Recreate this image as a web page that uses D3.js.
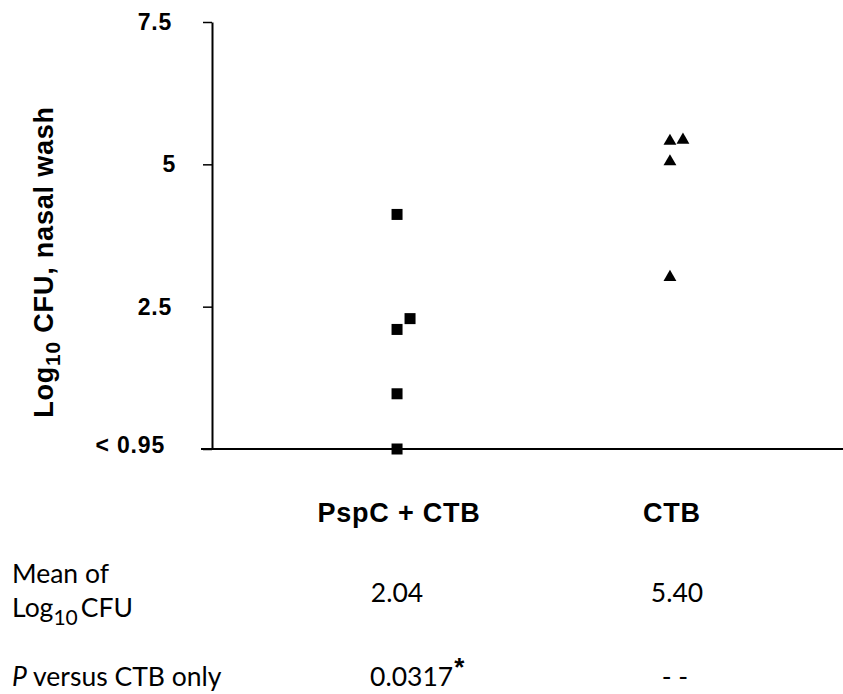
<!DOCTYPE html>
<html>
<head>
<meta charset="utf-8">
<script src="https://cdn.jsdelivr.net/npm/d3@7"></script>
<style>
  body { margin: 0; background: #fff; }
  svg { display: block; }
</style>
</head>
<body>
<div id="chart"></div>
<script>
// Groups and per-animal values (log10 CFU); 0 = below detection (< 0.95)
const groups = ["PspC + CTB", "CTB"];
const pspcValues = [4.12, 2.29, 2.10, 0.97, 0];
const pspcSlot = [0, 1, 0, 0, 0];
const ctbValues = [5.44, 5.46, 5.08, 3.05];
const ctbSlot = [0, 1, 0, 0];
const yTicks = [0, 2.5, 5, 7.5];
const yTickLabels = ["< 0.95", "2.5", "5", "7.5"];
const means = ["2.04", "5.40"];
const pValues = ["0.0317", "- -"];

const W = 843, H = 694;
const axisX = 212;
const boldFont = "'Liberation Sans', Arial, sans-serif";

const svg = d3.select("#chart")
  .append("svg")
  .attr("width", W)
  .attr("height", H);

// Scales
const y = d3.scaleLinear()
  .domain([0, 7.5])
  .range([449, 22]);
const x = d3.scalePoint()
  .domain(groups)
  .range([axisX, 855])
  .padding(0.678);
const dodge = 13;

// Y axis
const yAxis = svg.append("g")
  .attr("transform", `translate(${axisX},0)`)
  .call(d3.axisLeft(y)
    .tickValues(yTicks)
    .tickSize(9)
    .tickSizeOuter(0)
    .tickPadding(31)
    .tickFormat((d, i) => yTickLabels[i]))
  .attr("font-family", boldFont)
  .attr("font-size", 23)
  .attr("font-weight", "bold");
yAxis.select(".domain").attr("stroke", "#000").attr("stroke-width", 2);
yAxis.selectAll(".tick line").attr("stroke", "#000").attr("stroke-width", 1.5);
yAxis.selectAll(".tick text")
  .attr("fill", "#000")
  .attr("letter-spacing", "0.8px")
  .attr("dx", d => d === 0 ? -7 : (d === 5 ? 4 : 0))
  .attr("dy", d => d === 0 ? "0.15em" : "0.32em");

// X baseline
svg.append("line")
  .attr("x1", 201)
  .attr("x2", W)
  .attr("y1", y(0))
  .attr("y2", y(0))
  .attr("stroke", "#000")
  .attr("stroke-width", 2);

// Y title
const yTitle = svg.append("text")
  .attr("transform", `translate(53,262) rotate(-90)`)
  .attr("text-anchor", "middle")
  .style("font-family", boldFont)
  .style("font-weight", "bold")
  .style("font-size", "27px")
  .style("letter-spacing", "0.8px");
yTitle.append("tspan").text("Log");
yTitle.append("tspan").attr("dy", 7).style("font-size", "21px").text("10");
yTitle.append("tspan").attr("dy", -7).text(" CFU, nasal wash");

// Squares: PspC + CTB
const sq = 11;
svg.selectAll("rect.pt")
  .data(pspcValues.map((v, i) => ({v, s: pspcSlot[i]})))
  .join("rect")
  .attr("class", "pt")
  .attr("x", d => x(groups[0]) + d.s * dodge - sq / 2)
  .attr("y", d => y(d.v) - sq / 2)
  .attr("width", sq)
  .attr("height", sq)
  .attr("fill", "#000");

// Triangles: CTB
const triSize = 72;
const triOff = Math.sqrt(triSize / (Math.sqrt(3) * 3)) / 2; // centroid -> bbox centre
svg.selectAll("path.tri")
  .data(ctbValues.map((v, i) => ({v, s: ctbSlot[i]})))
  .join("path")
  .attr("class", "tri")
  .attr("d", d3.symbol(d3.symbolTriangle, triSize))
  .attr("transform", d => `translate(${x(groups[1]) + d.s * dodge},${y(d.v) + triOff})`)
  .attr("fill", "#000");

// Group labels
svg.selectAll("text.grp")
  .data(groups)
  .join("text")
  .attr("class", "grp")
  .attr("x", d => x(d) + 2)
  .attr("y", 522)
  .attr("text-anchor", "middle")
  .style("font-family", boldFont)
  .style("font-weight", "bold")
  .style("font-size", "27px")
  .style("letter-spacing", "0.8px")
  .text(d => d);

// Table below
const t = svg.append("g")
  .style("font-family", "Lato, 'Open Sans', sans-serif")
  .style("font-size", "26.5px")
  .attr("fill", "#000");

t.append("text").attr("x", 12).attr("y", 583).text("Mean of");
const logT = t.append("text").attr("x", 12).attr("y", 617);
logT.append("tspan").text("Log");
logT.append("tspan").attr("dy", 8).style("font-size", "21px").text("10");
logT.append("tspan").attr("dy", -8).attr("dx", 3).text("CFU");

const pRowY = 686;
const pT = t.append("text").attr("x", 12).attr("y", pRowY);
pT.append("tspan").style("font-style", "italic").text("P");
pT.append("tspan").text(" versus CTB only");

t.selectAll("text.mean")
  .data(means)
  .join("text")
  .attr("class", "mean")
  .attr("x", (d, i) => x(groups[i]) + (i === 1 ? 7 : 0))
  .attr("y", 602)
  .attr("text-anchor", "middle")
  .text(d => d);

const pv = t.selectAll("text.pv")
  .data(pValues)
  .join("text")
  .attr("class", "pv")
  .attr("x", (d, i) => i === 0 ? x(groups[i]) - 27 : x(groups[i]) + 5)
  .attr("y", pRowY)
  .attr("text-anchor", (d, i) => i === 0 ? "start" : "middle")
  .text(d => d);
pv.filter((d, i) => i === 0)
  .append("tspan")
  .attr("dy", -10)
  .attr("dx", 1)
  .style("font-family", boldFont)
  .style("font-weight", "bold")
  .style("font-size", "26px")
  .text("*");
</script>
</body>
</html>
